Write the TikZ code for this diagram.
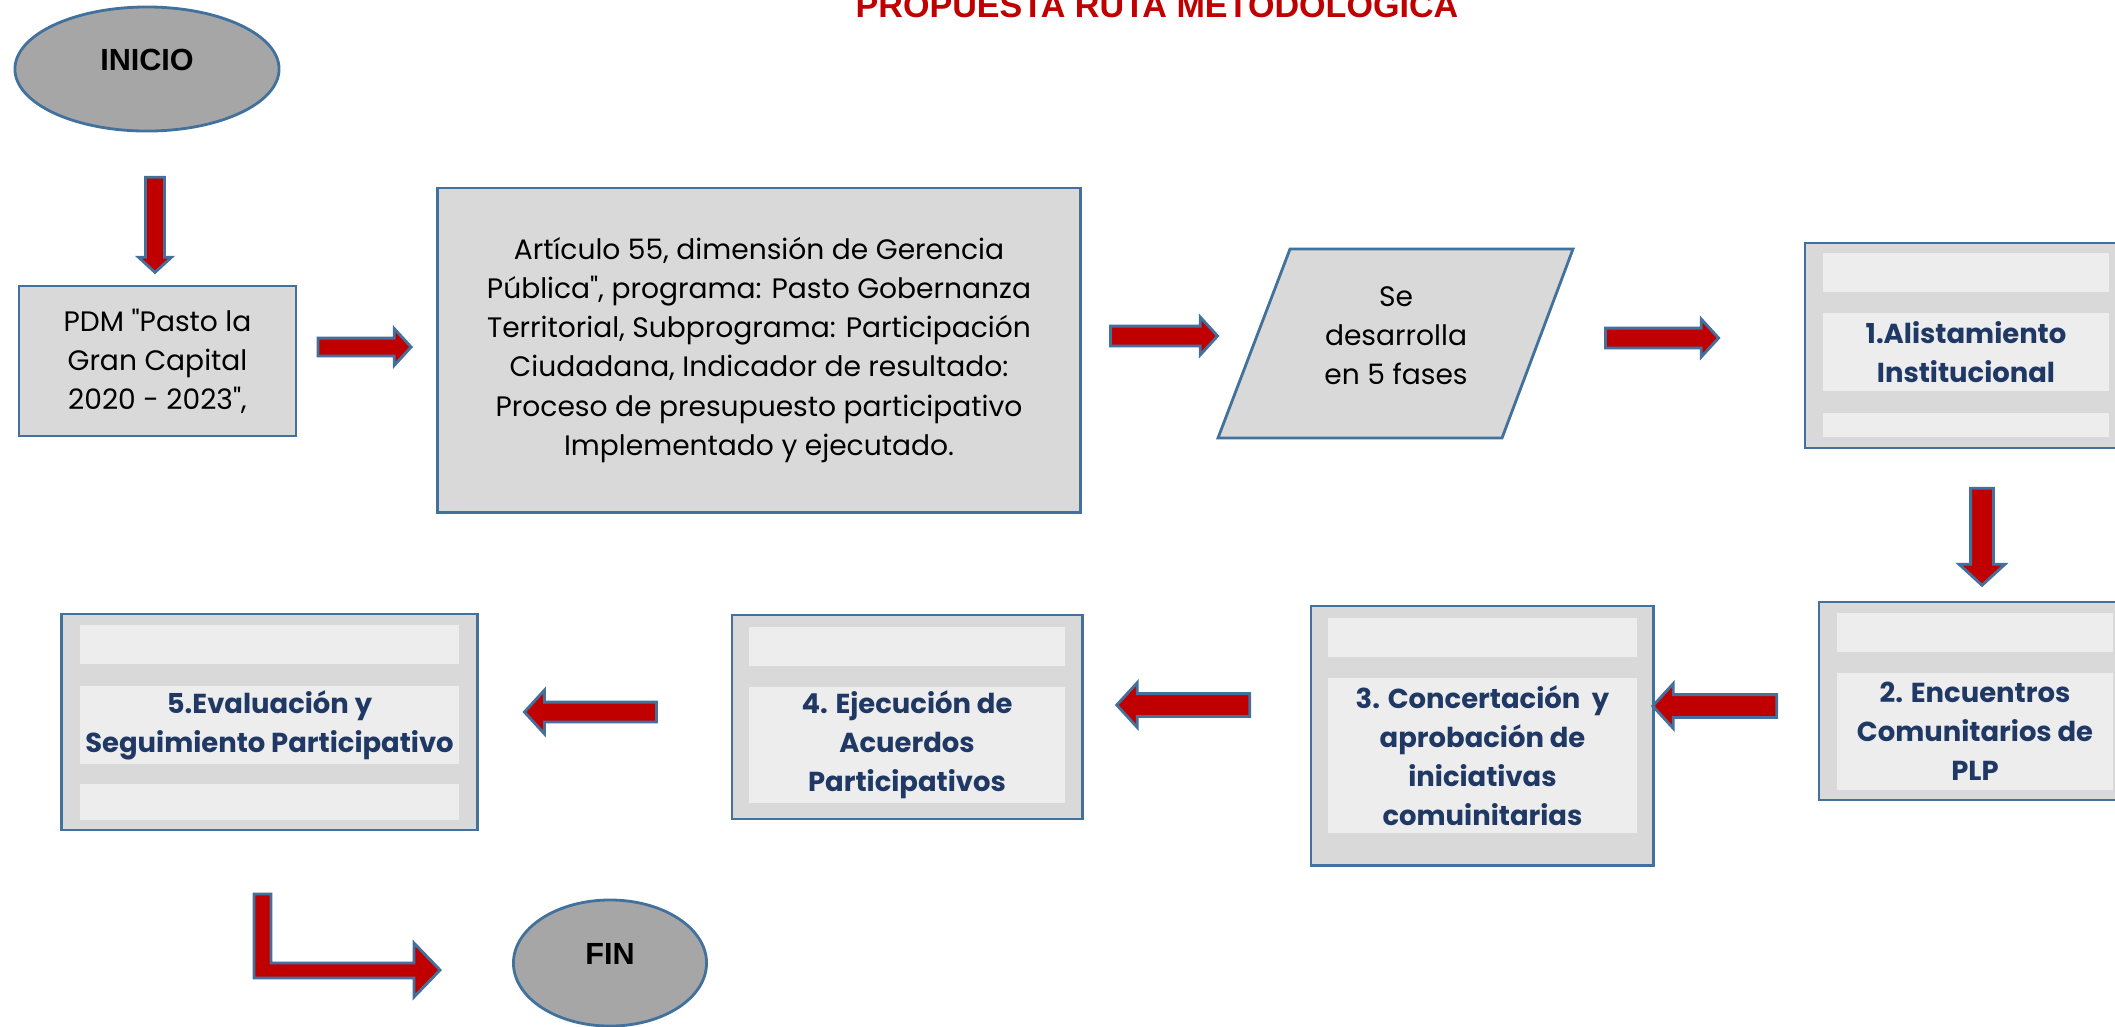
\documentclass[tikz,border=0pt]{standalone}
\usepackage{fontspec}
\newfontfamily\gothic{Poppins}
\newfontfamily\arialfont{Liberation Sans}
\usepackage{xcolor}
\definecolor{borde}{RGB}{65,113,156}
\definecolor{gris}{RGB}{217,217,217}
\definecolor{franja}{RGB}{237,237,237}
\definecolor{elipse}{RGB}{166,166,166}
\definecolor{rojo}{RGB}{192,0,0}
\definecolor{navy}{RGB}{31,56,100}
\usetikzlibrary{shapes.geometric, shapes.arrows, positioning}

\begin{document}
\begin{tikzpicture}[x=0.01cm, y=-0.01cm,
  caja/.style={rectangle, draw=borde, fill=gris, line width=0.8pt, inner sep=0pt, align=center, font=\gothic\fontsize{8}{11.1}\selectfont},
  franjabox/.style={rectangle, fill=franja, inner sep=0pt, align=center, text=navy, font=\gothic\bfseries\fontsize{7.8}{11.1}\selectfont},
  term/.style={ellipse, draw=borde, fill=elipse, line width=0.8pt, inner sep=0pt, text height=0.22cm, text depth=0.2cm, font=\arialfont\bfseries\fontsize{8.7}{10}\selectfont},
  flecha/.style={single arrow, draw=borde, fill=rojo, line width=0.8pt, single arrow tip angle=95, single arrow head indent=0pt, minimum width=0pt},
  titulo/.style={font=\arialfont\bfseries\fontsize{9.7}{11}\selectfont, text=rojo, inner sep=0pt}
]
  \clip (0,0) rectangle (2115,1026);
  \fill[white] (0,0) rectangle (2115,1026);

  \node[titulo, anchor=base] (titulo) at (1157,17) {PROPUESTA RUTA METODOLOGICA};

  \node[term, minimum width=2.64cm, minimum height=1.24cm] (inicio) at (147,69) {INICIO};
  \node[term, minimum width=1.93cm, minimum height=1.26cm] (fin) at (610,963) {FIN};

  \node[caja, minimum width=2.77cm, minimum height=1.50cm] (pdm) at (157.5,361) {PDM "Pasto la\\Gran Capital\\2020 - 2023",};
  \node[caja, minimum width=6.42cm, minimum height=3.24cm] (articulo) at (759,350) {Artículo 55, dimensión de Gerencia\\Pública", programa: Pasto Gobernanza\\Territorial, Subprograma: Participación\\Ciudadana, Indicador de resultado:\\Proceso de presupuesto participativo\\Implementado y ejecutado.};
  \draw[draw=borde, fill=gris, line width=0.8pt] (1218,438) -- (1290,249) -- (1573,249) -- (1502,438) -- cycle;
  \node[align=center, font=\gothic\fontsize{8}{11.1}\selectfont] (fases) at (1396,336) {Se\\desarrolla\\en 5 fases};

  % fase 1
  \node[caja, minimum width=3.22cm, minimum height=2.05cm] (fase1) at (1966,345.5) {};
  \node[franjabox, minimum width=2.86cm, minimum height=0.39cm] (f1a) at (1966,272.5) {};
  \node[franjabox, minimum width=2.86cm, minimum height=0.78cm] (f1b) at (1966,352) {1.Alistamiento\\Institucional};
  \node[franjabox, minimum width=2.86cm, minimum height=0.24cm] (f1c) at (1966,425) {};
  % fase 2
  \node[caja, minimum width=3.12cm, minimum height=1.98cm] (fase2) at (1975,701) {};
  \node[franjabox, minimum width=2.76cm, minimum height=0.39cm] (f2a) at (1975,632.5) {};
  \node[franjabox, minimum width=2.76cm, minimum height=1.17cm] (f2b) at (1975,731.5) {2. Encuentros\\Comunitarios de\\PLP};
  % fase 3
  \node[caja, minimum width=3.42cm, minimum height=2.59cm] (fase3) at (1482,735.5) {};
  \node[franjabox, minimum width=3.09cm, minimum height=0.39cm] (f3a) at (1482.5,637.5) {};
  \node[franjabox, minimum width=3.09cm, minimum height=1.55cm] (f3b) at (1482.5,755.5) {3. Concertación\ \ y\\aprobación de\\iniciativas\\comuinitarias};
  % fase 4
  \node[caja, minimum width=3.50cm, minimum height=2.04cm] (fase4) at (907,717) {};
  \node[franjabox, minimum width=3.16cm, minimum height=0.39cm] (f4a) at (907,646.5) {};
  \node[franjabox, minimum width=3.16cm, minimum height=1.16cm] (f4b) at (907,745) {4. Ejecución de\\Acuerdos\\Participativos};
  % fase 5
  \node[caja, minimum width=4.15cm, minimum height=2.16cm] (fase5) at (269.5,722) {};
  \node[franjabox, minimum width=3.79cm, minimum height=0.39cm] (f5a) at (269.5,644.5) {};
  \node[franjabox, minimum width=3.79cm, minimum height=0.78cm] (f5b) at (269.5,725) {5.Evaluación y\\Seguimiento Participativo};
  \node[franjabox, minimum width=3.79cm, minimum height=0.36cm] (f5c) at (269.5,802) {};

  % flechas de bloque
  \node[flecha, rotate=270, minimum height=0.95cm, inner sep=0.08cm, single arrow head extend=0.07cm] (a0) at (155,220.5) {};
  \node[flecha, minimum height=0.93cm, inner sep=0.075cm, single arrow head extend=0.095cm] (a1) at (360.5,347) {};
  \node[flecha, minimum height=1.07cm, inner sep=0.085cm, single arrow head extend=0.09cm] (a2) at (1159.5,336) {};
  \node[flecha, minimum height=1.13cm, inner sep=0.085cm, single arrow head extend=0.09cm] (a3) at (1657.5,338) {};
  \node[flecha, rotate=270, minimum height=0.97cm, inner sep=0.1cm, single arrow head extend=0.115cm] (a4) at (1982,531.5) {};
  \node[flecha, rotate=180, minimum height=1.24cm, inner sep=0.1cm, single arrow head extend=0.11cm] (a5) at (1720,706) {};
  \node[flecha, rotate=180, minimum height=1.33cm, inner sep=0.1cm, single arrow head extend=0.11cm] (a6) at (1188.5,705) {};
  \node[flecha, rotate=180, minimum height=1.32cm, inner sep=0.085cm, single arrow head extend=0.12cm] (a7) at (595,712) {};
  \draw[draw=borde, fill=rojo, line width=0.8pt] (254,894) -- (271,894) -- (271,963) -- (414,963) -- (414,943) -- (440,970) -- (414,997) -- (414,978) -- (254,978) -- cycle;
\end{tikzpicture}
\end{document}
